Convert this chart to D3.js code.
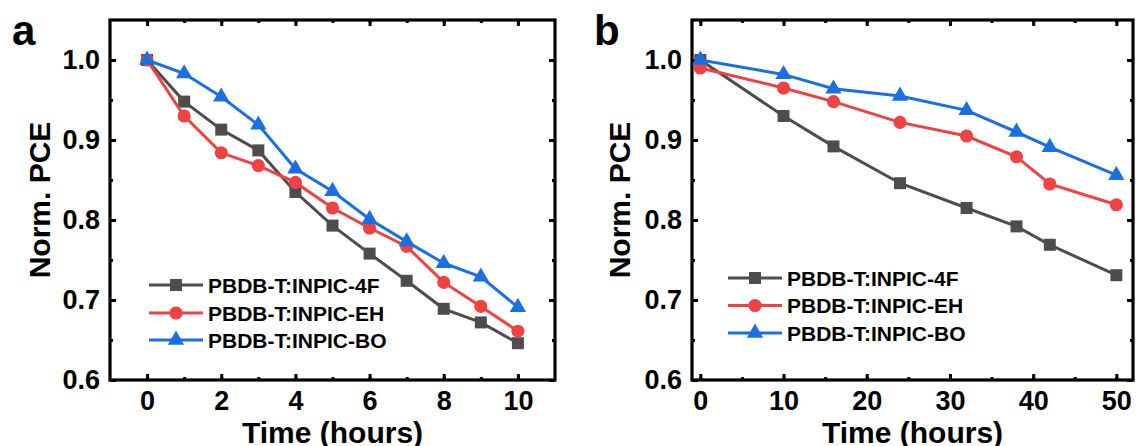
<!DOCTYPE html>
<html>
<head>
<meta charset="utf-8">
<script src="https://cdn.jsdelivr.net/npm/d3@7/dist/d3.min.js"></script>
<style>
  body { margin:0; background:#fff; }
  svg text { font-family:"Liberation Sans", Arial, sans-serif; font-weight:bold; fill:#000; }
</style>
</head>
<body>
<svg id="chart" width="1139" height="446"></svg>
<script>
// ---- data ----
var seriesNames = ["PBDB-T:INPIC-4F","PBDB-T:INPIC-EH","PBDB-T:INPIC-BO"];

var timeA = [0,1,2,3,4,5,6,7,8,9,10];
var pce4F_A = [1.000,0.948,0.913,0.887,0.835,0.793,0.758,0.724,0.689,0.672,0.646];
var pceEH_A = [1.000,0.930,0.884,0.868,0.847,0.815,0.790,0.767,0.722,0.692,0.661];
var pceBO_A = [1.000,0.983,0.954,0.919,0.864,0.836,0.801,0.773,0.746,0.729,0.691];

var timeB = [0,10,16,24,32,38,42,50];
var pce4F_B = [1.000,0.930,0.892,0.846,0.815,0.792,0.769,0.731];
var pceEH_B = [0.990,0.965,0.948,0.922,0.905,0.879,0.845,0.819];
var pceBO_B = [1.000,0.982,0.964,0.955,0.937,0.910,0.891,0.856];

var yTicks = [0.6,0.7,0.8,0.9,1.0];

// ---- style ----
var COLORS = ["#4d4d4d","#ef4242","#1c6fe0"];
var SYMBOLS = [d3.symbolSquare, d3.symbolCircle, d3.symbolTriangle];
var SYM_SIZE = [144, 135, 115];

var svg = d3.select("#chart");

/** draws one panel */
function drawPanel(cfg){
	var g = svg.append("g").attr("id","panel_"+cfg.label);

	var x = d3.scaleLinear().domain(cfg.xDomain).range([cfg.left, cfg.right]);
	var y = d3.scaleLinear().domain([0.6,1.05]).range([380,20]);

	// minor ticks first (all four sides, inward)
	var minorX = d3.range(cfg.xDomain[0]+1, cfg.xDomain[1], cfg.xMinor).filter(function(v){return v>=0 && v<=cfg.xMax;});
	var minorY = d3.range(0.65, 1.05, 0.1);

	g.append("g").attr("transform","translate(0,380)")
		.call(d3.axisBottom(x).tickValues(minorX).tickSize(-3).tickFormat(""));
	g.append("g").attr("transform","translate(0,20)")
		.call(d3.axisTop(x).tickValues(minorX).tickSize(-3).tickFormat(""));
	g.append("g").attr("transform","translate("+cfg.left+",0)")
		.call(d3.axisLeft(y).tickValues(minorY).tickSize(-3).tickFormat(""));
	g.append("g").attr("transform","translate("+cfg.right+",0)")
		.call(d3.axisRight(y).tickValues(minorY).tickSize(-3).tickFormat(""));

	// major ticks
	g.append("g").attr("class","xaxis").attr("transform","translate(0,380)")
		.call(d3.axisBottom(x).tickValues(cfg.xTicks).tickSize(-6).tickPadding(11).tickFormat(d3.format("d")));
	g.append("g").attr("transform","translate(0,20)")
		.call(d3.axisTop(x).tickValues(cfg.xTicks).tickSize(-6).tickFormat(""));
	g.append("g").attr("class","yaxis").attr("transform","translate("+cfg.left+",0)")
		.call(d3.axisLeft(y).tickValues(yTicks).tickSize(-6).tickPadding(10).tickFormat(d3.format(".1f")));
	g.append("g").attr("transform","translate("+cfg.right+",0)")
		.call(d3.axisRight(y).tickValues(yTicks).tickSize(-6).tickFormat(""));

	g.selectAll(".domain").remove();
	g.selectAll(".tick line").attr("stroke","#000").attr("stroke-width",3);
	g.selectAll(".tick text").style("font-size","27px").style("font-family","Liberation Sans, Arial, sans-serif").style("font-weight","bold");

	// frame
	g.append("rect")
		.attr("x",cfg.left).attr("y",20)
		.attr("width",cfg.right-cfg.left).attr("height",360)
		.attr("fill","none").attr("stroke","#000").attr("stroke-width",3.2);

	// series
	var line = d3.line().x(function(d){return x(d[0]);}).y(function(d){return y(d[1]);});
	cfg.series.forEach(function(vals,i){
		var pts = cfg.time.map(function(t,k){return [t,vals[k]];});
		var s = g.append("g").attr("class","series");
		s.append("path").datum(pts)
			.attr("d",line).attr("fill","none")
			.attr("stroke",COLORS[i]).attr("stroke-width",3);
		s.selectAll("path.mk").data(pts).enter().append("path")
			.attr("class","mk")
			.attr("transform",function(d){return "translate("+x(d[0])+","+y(d[1])+")";})
			.attr("d",d3.symbol().type(SYMBOLS[i]).size(SYM_SIZE[i]))
			.attr("fill",COLORS[i]);
	});

	// legend
	var lg = g.append("g").attr("class","legend");
	seriesNames.forEach(function(name,i){
		var ly = cfg.legendY[i];
		lg.append("line")
			.attr("x1",cfg.legendX).attr("x2",cfg.legendX+54)
			.attr("y1",ly).attr("y2",ly)
			.attr("stroke",COLORS[i]).attr("stroke-width",3);
		lg.append("path")
			.attr("transform","translate("+(cfg.legendX+27)+","+ly+")")
			.attr("d",d3.symbol().type(SYMBOLS[i]).size(SYM_SIZE[i]))
			.attr("fill",COLORS[i]);
		lg.append("text")
			.attr("x",cfg.legendX+59).attr("y",ly+7.5)
			.style("font-size","21px")
			.text(name);
	});

	// axis titles
	g.append("text")
		.attr("transform","translate("+cfg.yTitleX+",200) rotate(-90)")
		.attr("text-anchor","middle")
		.style("font-size","30px")
		.text("Norm. PCE");
	g.append("text")
		.attr("x",(cfg.left+cfg.right)/2).attr("y",443)
		.attr("text-anchor","middle")
		.style("font-size","30px")
		.text("Time (hours)");

	// panel letter
	g.append("text")
		.attr("x",cfg.labelX).attr("y",45)
		.style("font-size","42px")
		.text(cfg.label);
}

drawPanel({
	label:"a", labelX:12, yTitleX:50,
	left:110, right:555, xDomain:[-1,11], xMax:10, xMinor:1,
	xTicks:[0,2,4,6,8,10],
	time:timeA, series:[pce4F_A,pceEH_A,pceBO_A],
	legendX:149, legendY:[285,313,340]
});

drawPanel({
	label:"b", labelX:594, yTitleX:630,
	left:692, right:1133, xDomain:[-1,52], xMax:50, xMinor:5,
	xTicks:[0,10,20,30,40,50],
	time:timeB, series:[pce4F_B,pceEH_B,pceBO_B],
	legendX:728, legendY:[278,305.5,333]
});
</script>
</body>
</html>
